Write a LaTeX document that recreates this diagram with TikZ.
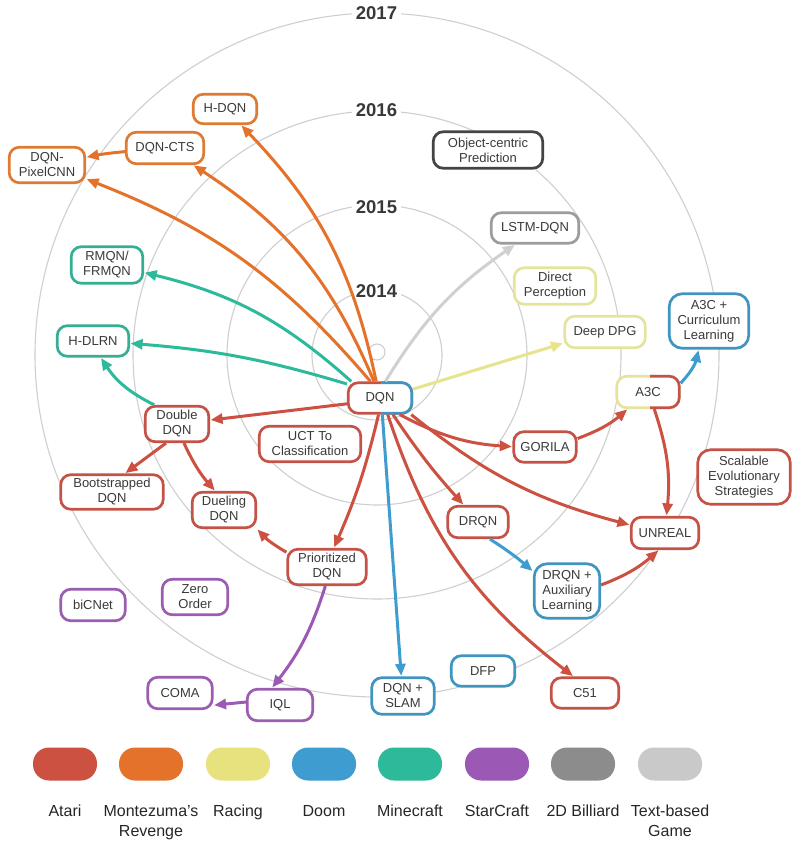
\documentclass[tikz,border=0pt]{standalone}
\usepackage{fontspec}
\setmainfont{Liberation Sans}
\usetikzlibrary{arrows.meta}
\definecolor{atari}{HTML}{CC5140}
\definecolor{monte}{HTML}{E5722A}
\definecolor{racing}{HTML}{E8E27E}
\definecolor{doom}{HTML}{3E9CD0}
\definecolor{mine}{HTML}{2DBA9A}
\definecolor{star}{HTML}{9B58B5}
\definecolor{bill}{HTML}{8C8C8C}
\definecolor{textg}{HTML}{C9C9C9}
\definecolor{batari}{HTML}{C45246}
\definecolor{bmonte}{HTML}{DE7A34}
\definecolor{bracing}{HTML}{E6E49C}
\definecolor{bdoom}{HTML}{3F95BF}
\definecolor{bmine}{HTML}{36AE94}
\definecolor{bstar}{HTML}{9A5DB0}
\definecolor{bobj}{HTML}{444444}
\definecolor{blstm}{HTML}{9C9C9C}
\definecolor{egray}{HTML}{D0D0D0}
\definecolor{eyel}{HTML}{E6E48C}
\definecolor{txt}{HTML}{3A3A3A}
\definecolor{ringc}{HTML}{CFCFCF}
\definecolor{yearc}{HTML}{383838}
\begin{document}
\begin{tikzpicture}[x=1pt,y=1pt,
 nb/.style={rounded corners=10pt, line width=2.7pt, fill=white, align=center, inner sep=0pt, text=txt, font=\fontsize{13}{15}\selectfont},
 ed/.style={line width=3pt, -{Triangle[length=12pt,width=10pt]}, shorten >=0.5pt},
 ringl/.style={draw=ringc, line width=1.1pt},
 yr/.style={fill=white, inner sep=4pt, font=\bfseries\fontsize{18.5}{20}\selectfont, text=yearc},
 leg/.style={rounded corners=16pt, minimum width=64pt, minimum height=33pt, inner sep=0pt},
 legt/.style={align=center, inner sep=0pt, anchor=north, font=\fontsize{16}{20}\selectfont, text=black!85}
]
\useasboundingbox[fill=white] (0,0) rectangle (804,-843);

% rings
\draw[ringl] (377,-355) circle (65);
\draw[ringl] (377,-355) circle (150);
\draw[ringl] (377,-355) circle (244);
\draw[ringl] (377,-355) circle (342);
\draw[ringl] (377,-352) circle (8);
\node[yr] (y17) at (376.5,-13.5) {2017};
\node[yr] (y16) at (376.5,-110) {2016};
\node[yr] (y15) at (376.5,-207) {2015};
\node[yr] (y14) at (376.5,-291.5) {2014};

% nodes
\node[nb, draw=bmonte, minimum width=63.5pt, minimum height=29.5pt] (hdqn) at (225,-109) {H-DQN};
\node[nb, draw=bmonte, minimum width=77.5pt, minimum height=31.5pt] (cts) at (165,-148) {DQN-CTS};
\node[nb, draw=bmonte, minimum width=75.5pt, minimum height=35.5pt] (pix) at (47,-165) {DQN-\\PixelCNN};
\node[nb, draw=bobj, minimum width=109.5pt, minimum height=36.5pt] (obj) at (488,-150) {Object-centric\\Prediction};
\node[nb, draw=blstm, minimum width=87.5pt, minimum height=30.5pt] (lstm) at (535,-228) {LSTM-DQN};
\node[nb, draw=bracing, minimum width=81.5pt, minimum height=36.5pt] (dp) at (555,-286) {Direct\\Perception};
\node[nb, draw=bracing, minimum width=80.5pt, minimum height=31.5pt] (ddpg) at (605,-332) {Deep DPG};
\node[nb, draw=bdoom, rounded corners=13pt, minimum width=79.5pt, minimum height=54.5pt] (a3cc) at (709,-321) {A3C +\\Curriculum\\Learning};
\node[nb, draw=bmine, minimum width=71.5pt, minimum height=36.5pt] (rmqn) at (107,-265) {RMQN/\\FRMQN};
\node[nb, draw=bmine, minimum width=71.5pt, minimum height=30.5pt] (hdlrn) at (93,-341) {H-DLRN};

\node[nb, draw=batari, minimum width=63.5pt, minimum height=30.5pt] (dqn) at (380,-398) {DQN};
\begin{scope}
\clip (381.5,-370) rectangle (420,-430);
\node[nb, draw=bdoom, minimum width=63.5pt, minimum height=30.5pt] (dqnb) at (380,-398) {DQN};
\end{scope}
\node[nb, draw=bracing, minimum width=62.5pt, minimum height=31.5pt] (a3c) at (648,-392) {A3C};
\begin{scope}
\clip (650,-360) rectangle (690,-425);
\node[nb, draw=batari, minimum width=62.5pt, minimum height=31.5pt] (a3cb) at (648,-392) {A3C};
\end{scope}

\node[nb, draw=batari, minimum width=63.5pt, minimum height=35.5pt] (ddqn) at (177,-424) {Double\\DQN};
\node[nb, draw=batari, minimum width=101.5pt, minimum height=35.5pt] (uct) at (310,-444) {UCT To\\Classification};
\node[nb, draw=batari, minimum width=62.5pt, minimum height=30.5pt] (gorila) at (545,-447) {GORILA};
\node[nb, draw=batari, rounded corners=13pt, minimum width=92.5pt, minimum height=54.5pt] (ses) at (744,-477) {Scalable\\Evolutionary\\Strategies};
\node[nb, draw=batari, minimum width=102.5pt, minimum height=34.5pt] (boot) at (112,-492) {Bootstrapped\\DQN};
\node[nb, draw=batari, minimum width=63.5pt, minimum height=35.5pt] (duel) at (224,-510) {Dueling\\DQN};
\node[nb, draw=batari, minimum width=60.5pt, minimum height=31.5pt] (drqn) at (478,-522) {DRQN};
\node[nb, draw=batari, minimum width=67.5pt, minimum height=31.5pt] (unreal) at (665,-533) {UNREAL};
\node[nb, draw=batari, minimum width=78.5pt, minimum height=35.5pt] (prio) at (327,-567) {Prioritized\\DQN};
\node[nb, draw=bdoom, rounded corners=13pt, minimum width=65.5pt, minimum height=54.5pt] (aux) at (567,-591) {DRQN +\\Auxiliary\\Learning};
\node[nb, draw=bstar, minimum width=64.5pt, minimum height=31.5pt] (bicnet) at (93,-605) {biCNet};
\node[nb, draw=bstar, minimum width=65.5pt, minimum height=35.5pt] (zero) at (195,-597) {Zero\\Order};
\node[nb, draw=bdoom, minimum width=62.5pt, minimum height=36.5pt] (slam) at (403,-696) {DQN +\\SLAM};
\node[nb, draw=bdoom, minimum width=63.5pt, minimum height=30.5pt] (dfp) at (483,-671) {DFP};
\node[nb, draw=batari, minimum width=67.5pt, minimum height=30.5pt] (c51) at (585,-693) {C51};
\node[nb, draw=bstar, minimum width=64.5pt, minimum height=31.5pt] (coma) at (180,-693) {COMA};
\node[nb, draw=bstar, minimum width=65.5pt, minimum height=31.5pt] (iql) at (280,-705) {IQL};

% edges
\draw[ed, monte] (dqn.103) to[bend right=16] (hdqn);
\draw[ed, monte] (dqn.110) to[bend right=17] (cts);
\draw[ed, monte] (dqn.120) to[bend right=14] (pix);
\draw[ed, monte] (cts) to[bend right=3] (pix);
\draw[ed, mine] (dqn.150) to[bend right=14] (rmqn);
\draw[ed, mine] (dqn.157) to[bend right=6] (hdlrn);
\draw[ed, mine] (ddqn.140) to[bend left=15] (hdlrn.-65);
\draw[ed, egray] (dqn.72) to[bend left=12] (lstm.-140);
\draw[ed, eyel] (dqn.15) to (ddpg.-165);
\draw[ed, atari] (dqn.190) to (ddqn);
\draw[ed, atari] (dqn.265) to[bend left=5] (prio.70);
\draw[ed, atari] (dqn.-40) to[bend right=12] (gorila);
\draw[ed, atari] (dqn.-52) to[bend right=4] (drqn.130);
\draw[ed, atari] (dqn.-28) to[bend right=12] (unreal);
\draw[ed, atari] (dqn.-65) to[bend right=17] (c51.125);
\draw[ed, atari] (gorila) to[bend right=10] (a3c.-140);
\draw[ed, atari] (a3c.-70) to[bend left=12] (unreal.85);
\draw[ed, atari] (ddqn.-120) to (boot.55);
\draw[ed, atari] (ddqn.-70) to[bend right=8] (duel.115);
\draw[ed, atari] (prio.160) to[bend left=8] (duel.-30);
\draw[ed, atari] (aux.10) to[bend right=10] (unreal.-110);
\draw[ed, doom] (dqn.-82) to (slam.95);
\draw[ed, doom] (drqn.-55) to[bend left=4] (aux.150);
\draw[ed, doom] (a3c.15) to[bend right=15] (a3cc.-110);
\draw[ed, star] (prio.-95) to[bend left=10] (iql.115);
\draw[ed, star] (iql.175) to (coma.-20);

% legend
\node[leg, fill=atari] (la) at (65,-764) {};
\node[leg, fill=monte] (lm) at (151,-764) {};
\node[leg, fill=racing] (lr) at (238,-764) {};
\node[leg, fill=doom] (ld) at (324,-764) {};
\node[leg, fill=mine] (lc) at (410,-764) {};
\node[leg, fill=star] (ls) at (497,-764) {};
\node[leg, fill=bill] (lb) at (583,-764) {};
\node[leg, fill=textg] (lt) at (670,-764) {};
\node[legt] (ta) at (65,-805) {Atari};
\node[legt] (tm) at (151,-805) {Montezuma's\\Revenge};
\node[legt] (tr) at (238,-805) {Racing};
\node[legt] (td) at (324,-805) {Doom};
\node[legt] (tc) at (410,-805) {Minecraft};
\node[legt] (ts) at (497,-805) {StarCraft};
\node[legt] (tb) at (583,-805) {2D Billiard};
\node[legt] (tt) at (670,-805) {Text-based\\Game};
\end{tikzpicture}
\end{document}
